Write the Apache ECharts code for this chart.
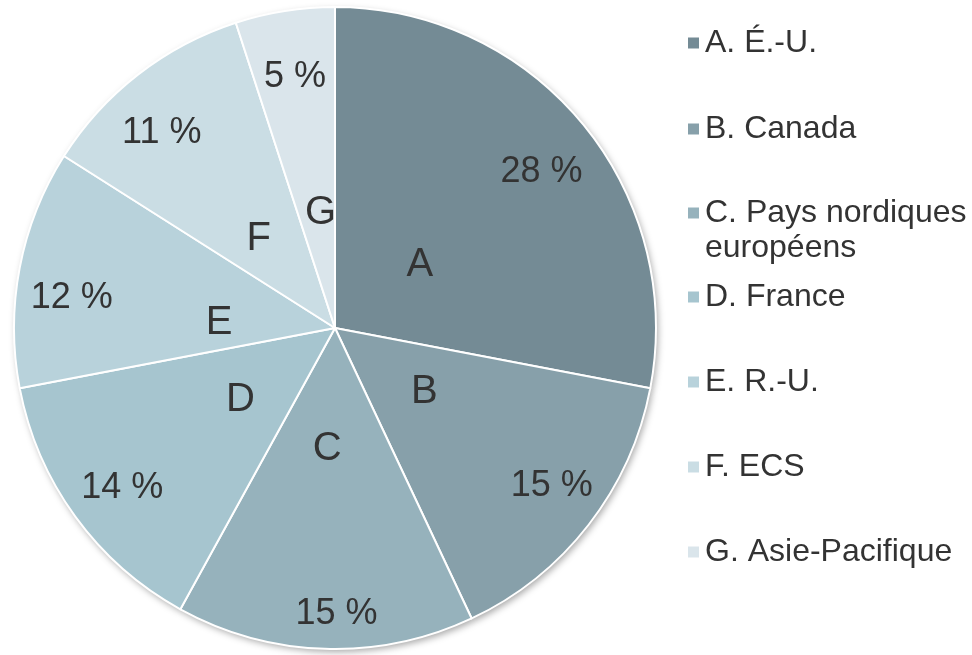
<!DOCTYPE html>
<html>
<head>
<meta charset="utf-8">
<script src="https://cdn.jsdelivr.net/npm/echarts@6/dist/echarts.min.js"></script>
<style>
  html,body{margin:0;padding:0;background:#fff;}
  #chart{width:972px;height:655px;}
</style>
</head>
<body>
<div id="chart"></div>
<script>
  // 数据
  var letters=["A","B","C","D","E","F","G"];
  var names=["A. É.-U.","B. Canada","C. Pays nordiques\neuropéens","D. France","E. R.-U.","F. ECS","G. Asie-Pacifique"];
  var values=[28,15,15,14,12,11,5];
  var colors=["#748b95","#87a0aa","#96b2bc","#a6c5cf","#b8d2db","#cadde4","#dae5eb"];

  // 布局：图例中心的y，标签位置的微调 [dx,dy]
  var legendY=[43,129,213,297,382,467,552];
  var pctNudge=[[0,15],[5,-6],[10,18],[4,3],[0,20],[-9,17],[2,14]];
  var letNudge=[[-6,12],[-4,-8],[-4,3],[1,3],[0,17],[-4,4],[4,2]];

  var font="'Liberation Sans', Arial, sans-serif";
  var cx=335,cy=328;
  var R=321;

  var pieData=values.map(function(v,i){
    return {name:names[i],value:v,itemStyle:{color:colors[i]}};
  });

  var legends=names.map(function(n,i){
    var twoLine=n.indexOf("\n")>=0;
    return {
      data:[n],
      left:686,
      top:twoLine?(legendY[i]-52.5):(legendY[i]-17.5),
      icon:"rect",
      itemWidth:13,
      itemHeight:13,
      padding:0,
      selectedMode:false,
      formatter:function(name){
        // 两行的图例：第一行和色块对齐
        return name.indexOf("\n")>=0?("\n"+name):name;
      },
      textStyle:{
        fontSize:32,
        fontFamily:font,
        color:"#333",
        lineHeight:35
      }
    };
  });

  // 每个标签一个透明的饼，只显示一个标签
  var labelSeries=function(k,radius,nudge,fontSize,text){
    return {
      type:"pie",
      center:[cx+nudge[k][0],cy+nudge[k][1]],
      radius:radius,
      startAngle:90,
      silent:true,
      itemStyle:{color:"transparent"},
      labelLine:{show:false},
      label:{
        show:false,
        position:"inside",
        fontSize:fontSize,
        fontFamily:font,
        color:"#333",
        formatter:function(p){return text(p.dataIndex);}
      },
      data:values.map(function(v,i){
        return {name:"l"+i,value:v,label:{show:i===k}};
      })
    };
  };

  var series=[
    // 阴影层
    {
      type:"pie",
      center:[cx,cy],
      radius:[0,R],
      startAngle:90,
      silent:true,
      label:{show:false},
      labelLine:{show:false},
      legendHoverLink:false,
      itemStyle:{
        borderWidth:0,
        shadowBlur:7,
        shadowOffsetX:2,
        shadowOffsetY:3,
        shadowColor:"rgba(0,0,0,0.35)"
      },
      data:values.map(function(v,i){return {name:"sh"+i,value:v,itemStyle:{color:colors[i]}};})
    },
    {
      type:"pie",
      center:[cx,cy],
      radius:[0,R],
      startAngle:90,
      clockwise:true,
      silent:true,
      label:{show:false},
      labelLine:{show:false},
      itemStyle:{
        borderColor:"#fff",
        borderWidth:2
      },
      data:pieData
    }
  ];
  values.forEach(function(v,k){
    // 百分比
    series.push(labelSeries(k,[209,R],pctNudge,36,function(i){return values[i]+" %";}));
    // 字母
    series.push(labelSeries(k,[0,230],letNudge,40,function(i){return letters[i];}));
  });

  var chart=echarts.init(document.getElementById("chart"));
  chart.setOption({
    animation:false,
    legend:legends,
    series:series
  });
</script>
</body>
</html>
